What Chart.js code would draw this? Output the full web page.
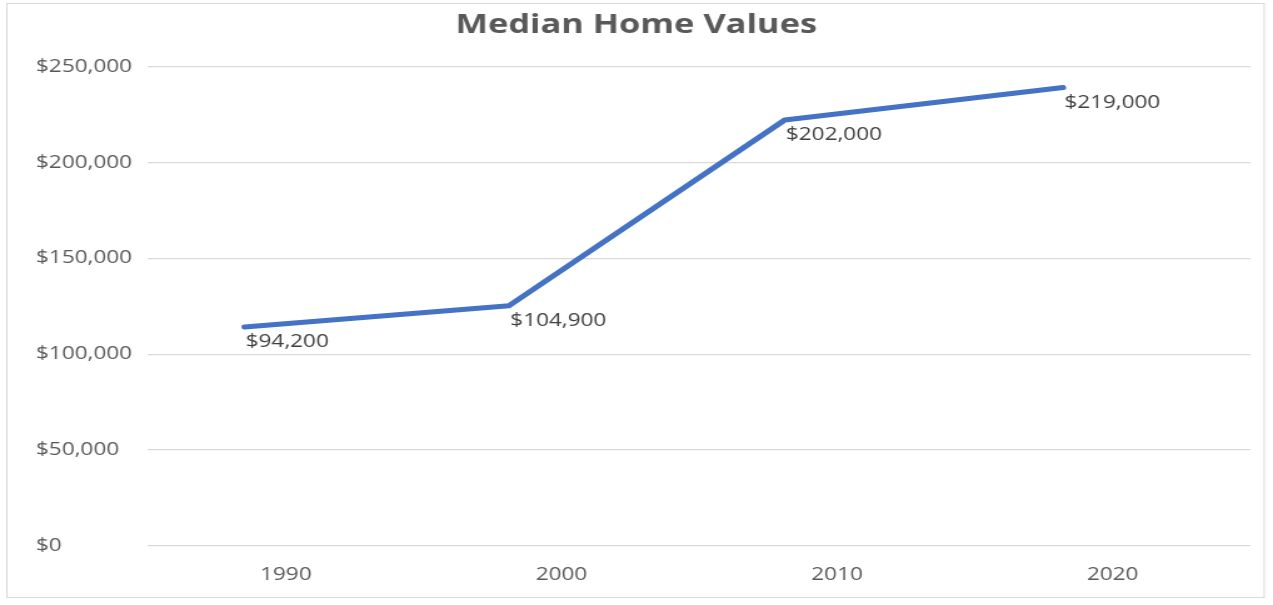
<!DOCTYPE html>
<html>
<head>
<meta charset="utf-8">
<script src="https://cdn.jsdelivr.net/npm/chart.js@4"></script>
<style>
  html, body { margin: 0; padding: 0; background: #fff; overflow: hidden; }
</style>
</head>
<body>
<!-- the reference is stretched sideways, so the canvas is drawn narrow and shown wide -->
<canvas id="myChart" width="1018" height="605" style="width:1273px;height:605px;display:block"></canvas>
<script>
// tick labels on the x axis
const years = [1990, 2000, 2010, 2020];
// where the line's points sit (the line is drawn a little left of each tick)
const pointYears = [1988.5, 1998.1, 2008.1, 2018.2];
// height of the line at each point, read against the y axis
const plotted = [114200, 125300, 222100, 239000];
// text of the label next to each point
const labelled = [94200, 104900, 202000, 219000];

const money = (v) => "$" + v.toLocaleString("en-US");

// labels under the line, left edge at the point
const pointLabels = {
   id: "pointLabels",
   afterDatasetsDraw(chart) {
      const ctx = chart.ctx;
      const meta = chart.getDatasetMeta(0);
      ctx.save();
      ctx.font = '18px "Open Sans"';
      ctx.fillStyle = "#404040";
      ctx.textAlign = "left";
      ctx.textBaseline = "middle";
      meta.data.forEach((pt, i) => {
         ctx.fillText(money(labelled[i]), pt.x + 1, pt.y + 15);
      });
      ctx.restore();
   },
};

// white page and the thin grey frame round the chart
const frame = {
   id: "frame",
   beforeDraw(chart) {
      const ctx = chart.ctx;
      ctx.save();
      ctx.fillStyle = "#fff";
      ctx.fillRect(0, 0, chart.width, chart.height);
      ctx.strokeStyle = "#d9d9d9";
      ctx.lineWidth = 1;
      ctx.strokeRect(5.5, 3.5, 1005.5, 594);
      ctx.restore();
   },
   // title sits centred on the whole frame, not on the padded area
   afterLayout(chart) {
      if (chart.titleBlock) {
         chart.titleBlock.left -= 5.6;
         chart.titleBlock.right -= 5.6;
      }
   },
};

let ctx = document.getElementById("myChart").getContext("2d");
let myChart = new Chart(ctx, {
   type: "line",
   data: {
      datasets: [
         {
            label: "Median Home Values",
            data: pointYears.map((yr, i) => ({ x: yr, y: plotted[i] })),
            borderColor: "#4472c4",
            backgroundColor: "#4472c4",
            borderWidth: 5,
            borderCapStyle: "round",
            borderJoinStyle: "round",
            pointRadius: 0,
            tension: 0,
         },
      ],
   },
   options: {
      responsive: false,
      devicePixelRatio: 1,
      animation: false,
      layout: { padding: { left: 28.8, right: 18, top: 0, bottom: 0 } },
      plugins: {
         legend: { display: false },
         tooltip: { enabled: false },
         title: {
            display: true,
            text: "Median Home Values",
            color: "#595959",
            font: { family: "Open Sans", size: 27.5, weight: "bold" },
            padding: { top: 8.5, bottom: 25 },
         },
      },
      scales: {
         x: {
            type: "linear",
            min: 1985,
            max: 2025,
            afterBuildTicks: (s) => {
               s.ticks = years.map((v) => ({ value: v }));
            },
            afterFit: (s) => {
               s.height = 59;
            },
            grid: { display: false, drawTicks: false },
            border: { display: false },
            ticks: {
               color: "#595959",
               font: { family: "Open Sans", size: 18 },
               padding: 18,
               maxRotation: 0,
               callback: (v) => String(v),
            },
         },
         y: {
            min: 0,
            max: 250000,
            afterFit: (s) => {
               s.width = 89.6;
            },
            grid: { color: "#d9d9d9", lineWidth: 1.3, drawTicks: false },
            border: { display: false },
            ticks: {
               stepSize: 50000,
               color: "#595959",
               crossAlign: "far",
               font: { family: "Open Sans", size: 18 },
               callback: (v) => money(v),
            },
         },
      },
   },
   plugins: [frame, pointLabels],
});
</script>
</body>
</html>
